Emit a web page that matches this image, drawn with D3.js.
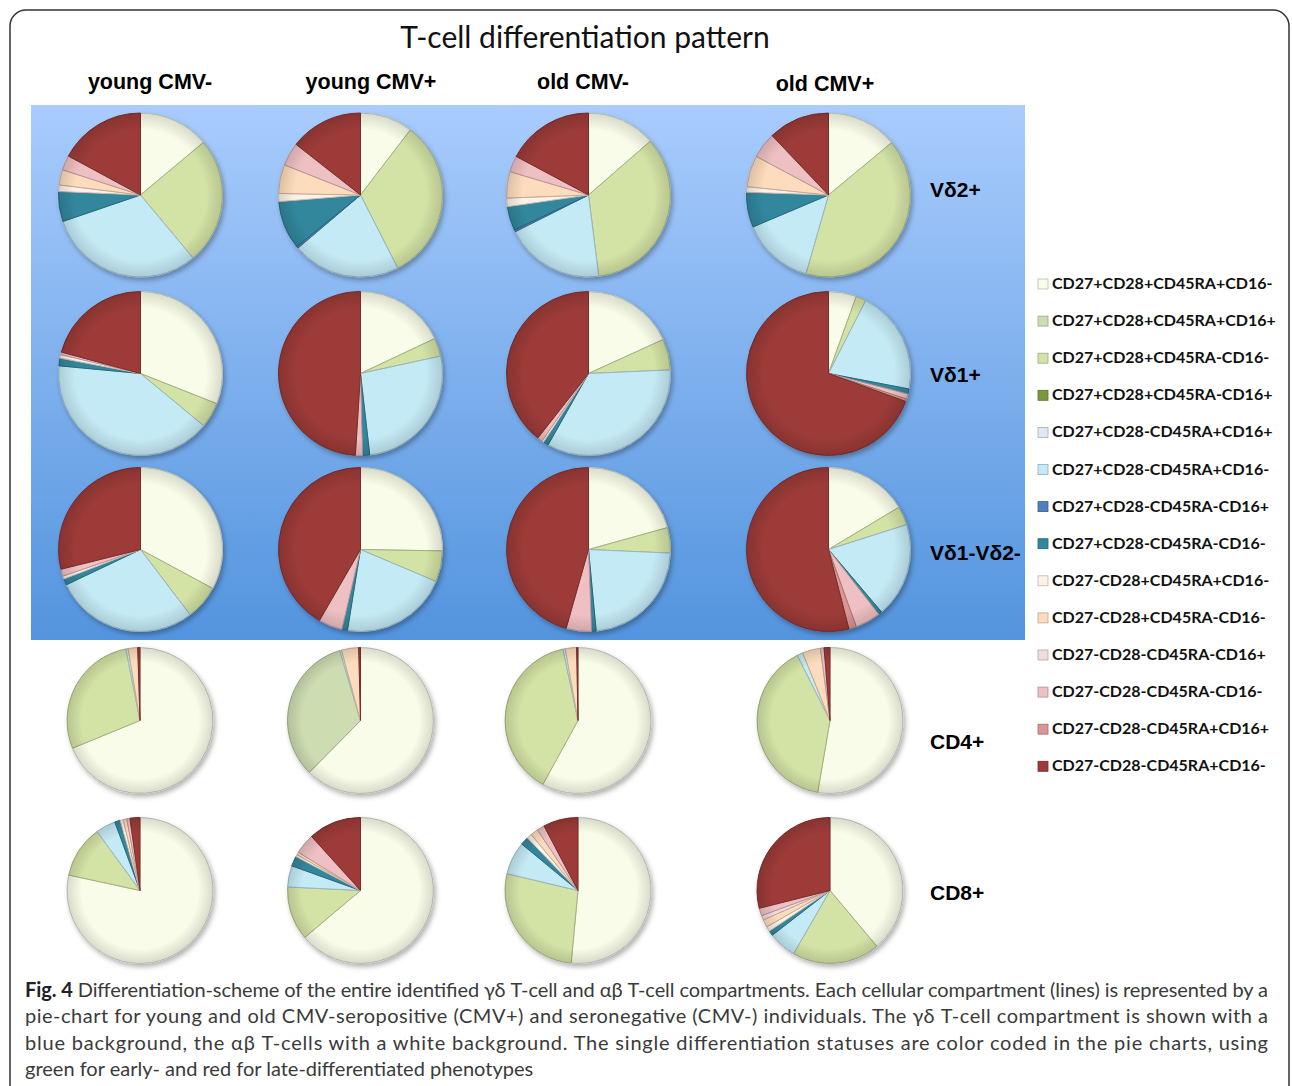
<!DOCTYPE html>
<html>
<head>
<meta charset="utf-8">
<script src="https://cdn.jsdelivr.net/npm/d3@7"></script>
<style>
  body { margin: 0; background: #fff; }
  svg { display: block; }
</style>
</head>
<body>
<div id="chart"></div>
<script>
// Phenotypes, in legend / slice order (clockwise from 12 o'clock)
const phenotypes = [
  "CD27+CD28+CD45RA+CD16-", "CD27+CD28+CD45RA+CD16+", "CD27+CD28+CD45RA-CD16-",
  "CD27+CD28+CD45RA-CD16+", "CD27+CD28-CD45RA+CD16+", "CD27+CD28-CD45RA+CD16-",
  "CD27+CD28-CD45RA-CD16+", "CD27+CD28-CD45RA-CD16-", "CD27-CD28+CD45RA+CD16-",
  "CD27-CD28+CD45RA-CD16-", "CD27-CD28-CD45RA-CD16+", "CD27-CD28-CD45RA-CD16-",
  "CD27-CD28-CD45RA+CD16+", "CD27-CD28-CD45RA+CD16-"
];
const colors = [
  "#f8fce8", "#cddcb1", "#d3e2a5", "#7a983e", "#dfe8f3", "#c4eaf5", "#4f81bd",
  "#32879d", "#fdf1e8", "#fddcbd", "#f0dcdc", "#efc0c3", "#d99694", "#9c3b39"
];

const groups = ["young CMV-", "young CMV+", "old CMV-", "old CMV+"];
const compartments = ["Vδ2+", "Vδ1+", "Vδ1-Vδ2-", "CD4+", "CD8+"];

// % of each phenotype, one row of 14 per group
const vd2Values = [
  [13.9, 0, 25.0, 0, 0, 30.8, 0, 5.9, 1.3, 3.0, 0, 2.9, 0, 17.1],
  [10.4, 0, 32.1, 0, 0, 21.3, 0.4, 9.5, 1.6, 5.7, 0, 4.6, 0, 14.4],
  [13.6, 0, 34.4, 0, 0, 19.6, 0.4, 4.7, 1.7, 5.2, 0, 3.2, 0, 17.2],
  [14.0, 0, 40.5, 0, 0, 14.2, 0, 6.9, 1.1, 6.2, 0, 5.1, 0, 12.1]
];
const vd1Values = [
  [31.0, 0, 5.0, 0, 0, 40.5, 0, 1.5, 0.7, 0, 0, 0.5, 0, 20.8],
  [18.0, 0, 3.6, 0, 0, 26.6, 0, 1.4, 0, 0, 0, 1.4, 0, 49.0],
  [18.2, 0, 6.1, 0, 0, 33.9, 0, 1.0, 0.4, 0, 0, 1.0, 0, 39.4],
  [5.5, 0, 2.0, 0, 0, 20.5, 0, 1.0, 0, 0, 0, 1.0, 0.5, 69.4]
];
const vdNegValues = [
  [32.9, 0, 6.8, 0, 0, 28.3, 0, 1.2, 0.6, 0, 0, 1.4, 0, 28.9],
  [25.3, 0, 6.1, 0, 0, 21.2, 0, 1.1, 0, 0, 0, 4.7, 0, 41.7],
  [20.7, 0, 5.0, 0, 0, 22.8, 0, 0.9, 0, 0, 0, 5.0, 0, 45.6],
  [16.4, 0, 3.7, 0, 0, 18.7, 0, 0.7, 0, 0, 0, 5.0, 1.5, 54.0]
];
const cd4Values = [
  [68.8, 0, 28.1, 0, 0, 0.5, 0, 0, 0, 2.1, 0, 0, 0, 0.5],
  [62.4, 33.0, 0, 0, 0, 0.4, 0, 0, 0, 3.8, 0, 0, 0, 0.4],
  [58.0, 0, 38.7, 0, 0, 0.5, 0, 0, 0, 2.5, 0, 0, 0, 0.3],
  [52.7, 0, 39.9, 0, 0, 1.3, 0, 0, 0, 4.0, 0, 0.8, 0, 1.3]
];
const cd8Values = [
  [78.4, 0, 11.6, 0, 0, 4.4, 0, 1.2, 0.7, 0.8, 0, 0.7, 0, 2.2],
  [63.8, 0, 11.9, 0, 0, 4.7, 0, 2.2, 0.5, 0.6, 0, 4.5, 0, 11.7],
  [51.5, 0, 27.2, 0, 0, 7.3, 0, 1.8, 1.1, 1.7, 0, 1.7, 0, 7.7],
  [39.0, 0, 19.5, 0, 0, 6.2, 0, 1.1, 1.1, 1.7, 1.0, 1.7, 0, 29.0]
];
const allValues = [vd2Values, vd1Values, vdNegValues, cd4Values, cd8Values];

const width = 1292, height = 1086;

// layout
const rowY = [195, 373.5, 549.5, 720.5, 890.5];
const colXgd = [140.5, 360.5, 588.5, 828.5];   // gamma-delta rows
const colXab = [140, 360.5, 578, 830];         // alpha-beta rows
const headerX = [150, 371, 583, 825];

const svg = d3.select("#chart")
  .append("svg")
  .attr("width", width)
  .attr("height", height)
  .attr("viewBox", [0, 0, width, height]);

const defs = svg.append("defs");

const bg = defs.append("linearGradient")
  .attr("id", "bluebg").attr("x1", 0).attr("y1", 0).attr("x2", 0).attr("y2", 1);
bg.append("stop").attr("offset", "0%").attr("stop-color", "#a9ccfd");
bg.append("stop").attr("offset", "100%").attr("stop-color", "#5394de");

const rim = defs.append("radialGradient").attr("id", "rim");
rim.append("stop").attr("offset", "80%").attr("stop-color", "#000").attr("stop-opacity", 0);
rim.append("stop").attr("offset", "100%").attr("stop-color", "#000").attr("stop-opacity", 0.13);

const shadow = defs.append("filter").attr("id", "shadow")
  .attr("x", "-20%").attr("y", "-20%").attr("width", "140%").attr("height", "140%");
shadow.append("feDropShadow")
  .attr("dx", 2).attr("dy", 3).attr("stdDeviation", 2.5)
  .attr("flood-color", "#000").attr("flood-opacity", 0.3);

// outer frame
svg.append("rect")
  .attr("x", 10).attr("y", 10)
  .attr("width", 1279).attr("height", 1120)
  .attr("rx", 16)
  .attr("fill", "none")
  .attr("stroke", "#333")
  .attr("stroke-width", 1.5);

// blue background for the gamma-delta compartments
svg.append("rect")
  .attr("x", 31).attr("y", 105)
  .attr("width", 994).attr("height", 535)
  .attr("fill", "url(#bluebg)");

// title
svg.append("text")
  .attr("x", 585).attr("y", 48)
  .attr("text-anchor", "middle")
  .attr("font-family", "Lato, sans-serif")
  .attr("font-size", 30)
  .attr("fill", "#111")
  .text("T-cell differentiation pattern");

// column headers
svg.selectAll(".colhead")
  .data(groups)
  .enter()
  .append("text")
    .attr("class", "colhead")
    .attr("x", (d, i) => headerX[i])
    .attr("y", (d, i) => i == 3 ? 91 : 89)
    .attr("text-anchor", "middle")
    .attr("font-family", "'Liberation Sans', Arial, sans-serif")
    .attr("font-weight", "bold")
    .attr("font-size", 21.5)
    .text(d => d);

// row labels
const labelY = [197, 382, 560, 749, 900];
svg.selectAll(".rowhead")
  .data(compartments)
  .enter()
  .append("text")
    .attr("class", "rowhead")
    .attr("x", 930)
    .attr("y", (d, i) => labelY[i])
    .attr("font-family", "'Liberation Sans', Arial, sans-serif")
    .attr("font-weight", "bold")
    .attr("font-size", 21)
    .text(d => d);

// pies
const pie = d3.pie().sort(null).value(d => d);

allValues.forEach((rows, r) => {
  const radius = r < 3 ? 82 : 73;
  const arc = d3.arc().innerRadius(0).outerRadius(radius);
  rows.forEach((vals, c) => {
    const cx = r < 3 ? colXgd[c] : colXab[c];
    const g = svg.append("g")
      .attr("transform", `translate(${cx},${rowY[r]})`);
    const inner = g.append("g").attr("filter", "url(#shadow)");
    inner.selectAll("path")
      .data(pie(vals).filter(d => d.value > 0))
      .enter()
      .append("path")
        .attr("d", arc)
        .attr("fill", d => colors[d.index])
        .attr("stroke", d => d3.color(colors[d.index]).darker(0.7))
        .attr("stroke-width", 1)
        .attr("stroke-linejoin", "round");
    g.append("circle")
      .attr("r", radius)
      .attr("fill", "url(#rim)")
      .attr("pointer-events", "none");
  });
});

// legend
const legend = svg.selectAll(".legend")
  .data(phenotypes)
  .enter()
  .append("g")
    .attr("class", "legend")
    .attr("transform", (d, i) => `translate(1038,${285 + i * 37.1})`);

legend.append("rect")
  .attr("x", 0).attr("y", -6)
  .attr("width", 10).attr("height", 10)
  .attr("fill", (d, i) => colors[i])
  .attr("stroke", (d, i) => d3.color(colors[i]).darker(0.8))
  .attr("stroke-width", 0.8);

legend.append("text")
  .attr("x", 14).attr("y", 4)
  .attr("font-family", "Lato, sans-serif")
  .attr("font-weight", "bold")
  .attr("font-size", 16)
  .attr("fill", "#111")
  .text(d => d);

// caption
const caption = [
  [["Fig. 4", true], [" Differentiation-scheme of the entire identified γδ T-cell and αβ T-cell compartments. Each cellular compartment (lines) is represented by a", false]],
  [["pie-chart for young and old CMV-seropositive (CMV+) and seronegative (CMV-) individuals. The γδ T-cell compartment is shown with a", false]],
  [["blue background, the αβ T-cells with a white background. The single differentiation statuses are color coded in the pie charts, using", false]],
  [["green for early- and red for late-differentiated phenotypes", false]]
];

caption.forEach((line, i) => {
  const t = svg.append("text")
    .attr("x", 25)
    .attr("y", 997 + i * 26.4)
    .attr("font-family", "Lato, sans-serif")
    .attr("font-size", 20)
    .attr("fill", "#3a3a3a");
  if (i < 3) t.attr("textLength", 1243).attr("lengthAdjust", "spacing");
  line.forEach(part => {
    t.append("tspan")
      .attr("font-weight", part[1] ? "bold" : "normal")
      .attr("fill", part[1] ? "#222" : "#3a3a3a")
      .text(part[0]);
  });
});
</script>
</body>
</html>
